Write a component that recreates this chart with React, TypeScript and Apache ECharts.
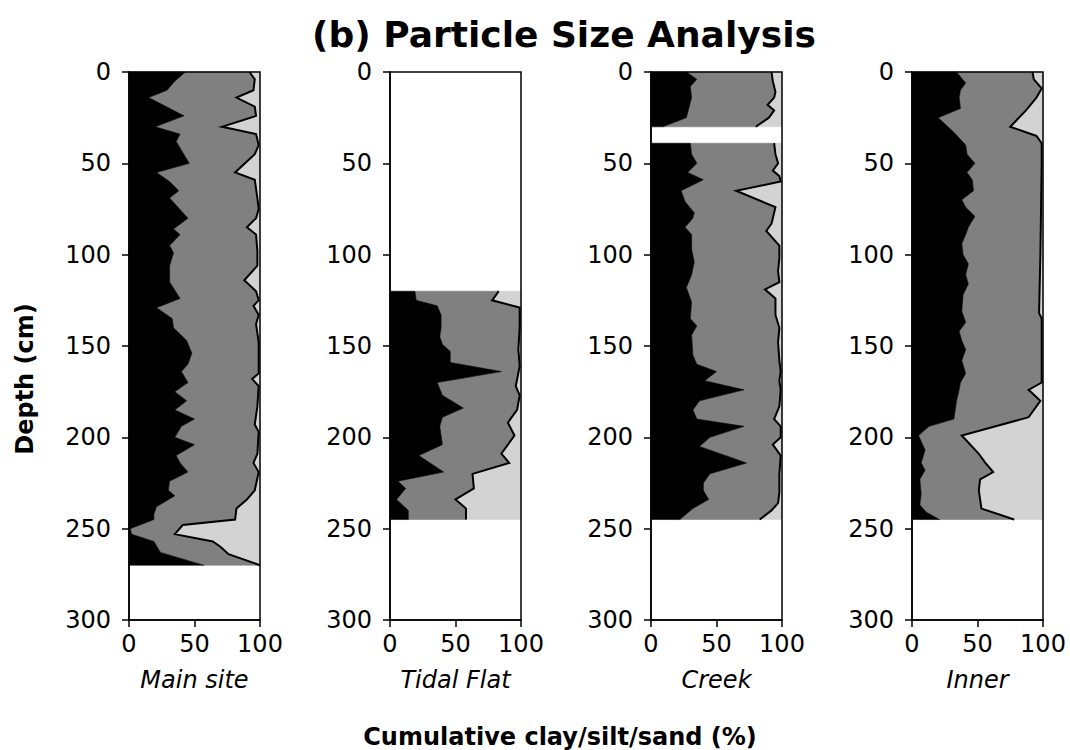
import React, { useEffect, useRef } from "react";
import * as echarts from "echarts";

// ---------- Data (depth in cm, cumulative percentage) ----------
const SITE_NAMES = ["Main site", "Tidal Flat", "Creek", "Inner"];
const X_TICKS = [0, 50, 100];
const DEPTH_TICKS = [0, 50, 100, 150, 200, 250, 300];

// Main site
const mainClayDepth = [0, 5, 10, 14, 24, 30, 34, 38, 50, 55, 60, 65, 69, 80, 86, 89, 95, 99, 106, 115, 124, 129, 135, 140, 147, 154, 160, 164, 170, 175, 180, 185, 190, 194, 200, 204, 210, 214, 219, 224, 229, 232, 238, 242, 245, 250, 253, 257, 263, 270];
const mainClay = [43, 35, 29, 15, 42, 20, 39, 36, 46, 21, 31, 38, 31, 45, 34, 39, 31, 34, 31, 31, 39, 21, 33, 34, 44, 48, 45, 40, 45, 35, 44, 35, 50, 40, 35, 50, 36, 39, 45, 31, 30, 35, 21, 19, 19, 1, 2, 19, 24, 57];
const mainCumDepth = [0, 4, 10, 14, 19, 24, 30, 34, 40, 45, 55, 59, 69, 75, 80, 85, 89, 98, 106, 114, 120, 125, 128, 133, 138, 148, 154, 165, 168, 172, 183, 193, 197, 209, 214, 219, 229, 234, 239, 245, 248, 253, 257, 260, 264, 270];
const mainCum = [92, 96, 95, 82, 96, 97, 71, 97, 99, 96, 81, 96, 98, 99, 97, 90, 97, 98, 98, 88, 97, 99, 95, 99, 97, 99, 99, 99, 94, 99, 98, 96, 99, 98, 95, 99, 96, 90, 82, 81, 41, 35, 64, 70, 76, 100];

// Tidal Flat
const tidalClayDepth = [120, 125, 128, 133, 140, 145, 149, 153, 159, 164, 170, 177, 184, 189, 194, 204, 210, 219, 224, 228, 234, 240, 245];
const tidalClay = [19, 20, 36, 39, 39, 38, 40, 46, 46, 85, 36, 40, 56, 40, 38, 40, 22, 41, 6, 12, 5, 14, 14];
const tidalCumDepth = [120, 125, 129, 139, 152, 161, 172, 177, 185, 192, 199, 209, 214, 220, 228, 234, 239, 245];
const tidalCum = [83, 78, 99, 99, 98, 99, 96, 99, 97, 90, 95, 85, 91, 63, 64, 50, 58, 58];

// Creek (two sampled intervals, gap between ~30 and ~39 cm)
const creekAClayDepth = [0, 4, 8, 14, 25, 30];
const creekAClay = [27, 35, 30, 31, 27, 9];
const creekACumDepth = [0, 5, 11, 14, 18, 21, 25, 30];
const creekACum = [92, 93, 95, 94, 89, 94, 90, 80];
const creekBClayDepth = [39, 45, 50, 55, 59, 65, 71, 77, 80, 85, 89, 97, 104, 111, 118, 126, 135, 139, 144, 155, 160, 164, 169, 174, 180, 185, 190, 194, 200, 205, 214, 220, 225, 229, 234, 239, 245];
const creekBClay = [30, 31, 35, 28, 40, 23, 26, 33, 32, 26, 31, 31, 33, 31, 27, 31, 30, 35, 31, 32, 35, 50, 41, 71, 37, 32, 35, 71, 45, 37, 73, 45, 40, 40, 44, 32, 22];
const creekBCumDepth = [39, 45, 50, 54, 57, 60, 65, 74, 83, 87, 95, 102, 109, 115, 119, 124, 133, 140, 148, 158, 164, 169, 174, 183, 190, 194, 200, 204, 210, 220, 230, 236, 240, 245];
const creekBCum = [94, 95, 97, 93, 98, 99, 65, 95, 92, 88, 98, 98, 97, 98, 87, 95, 95, 98, 97, 98, 99, 98, 99, 98, 94, 99, 99, 93, 99, 98, 98, 97, 92, 83];

// Inner
const innerClayDepth = [0, 6, 10, 14, 20, 25, 33, 40, 45, 50, 55, 59, 65, 70, 74, 79, 85, 89, 94, 100, 105, 111, 116, 122, 131, 137, 142, 147, 152, 158, 165, 170, 174, 180, 190, 194, 199, 207, 214, 218, 223, 231, 237, 241, 245];
const innerClay = [34, 41, 37, 36, 37, 20, 32, 41, 42, 48, 42, 46, 47, 38, 41, 48, 43, 41, 38, 39, 43, 41, 43, 39, 38, 41, 36, 38, 41, 38, 41, 37, 36, 34, 32, 13, 5, 10, 7, 10, 6, 7, 6, 11, 21];
const innerCumDepth = [0, 4, 9, 14, 21, 30, 35, 39, 51, 100, 132, 135, 161, 170, 174, 180, 189, 199, 209, 214, 219, 223, 229, 239, 245];
const innerCum = [92, 93, 99, 95, 87, 75, 95, 99, 99, 98, 97, 99, 99, 99, 89, 98, 89, 38, 51, 56, 62, 52, 51, 53, 78];

type Seg = { clayD: number[]; clay: number[]; cumD: number[]; cum: number[] };

const PANELS: Seg[][] = [
  [{ clayD: mainClayDepth, clay: mainClay, cumD: mainCumDepth, cum: mainCum }],
  [{ clayD: tidalClayDepth, clay: tidalClay, cumD: tidalCumDepth, cum: tidalCum }],
  [
    { clayD: creekAClayDepth, clay: creekAClay, cumD: creekACumDepth, cum: creekACum },
    { clayD: creekBClayDepth, clay: creekBClay, cumD: creekBCumDepth, cum: creekBCum },
  ],
  [{ clayD: innerClayDepth, clay: innerClay, cumD: innerCumDepth, cum: innerCum }],
];

const FONT = "DejaVu Sans";
const CLAY_COLOR = "#000000";
const SILT_COLOR = "#808080";
const SAND_COLOR = "#d3d3d3";

function polySeries(gi: number, pts: number[][], fill: string, z: number): any {
  return {
    type: "custom",
    xAxisIndex: gi,
    yAxisIndex: gi,
    silent: true,
    z,
    data: pts,
    encode: { x: 0, y: 1 },
    renderItem: (params: any, api: any) => {
      if (params.dataIndex !== 0) return null;
      return {
        type: "polygon",
        shape: { points: pts.map((p) => api.coord(p)) },
        style: { fill, stroke: fill, lineWidth: 0.6 },
      };
    },
  };
}

function lineSeries(gi: number, pts: number[][]): any {
  return {
    type: "custom",
    xAxisIndex: gi,
    yAxisIndex: gi,
    silent: true,
    z: 4,
    data: pts,
    encode: { x: 0, y: 1 },
    renderItem: (params: any, api: any) => {
      if (params.dataIndex !== 0) return null;
      return {
        type: "polyline",
        shape: { points: pts.map((p) => api.coord(p)) },
        style: { fill: "none", stroke: "#000", lineWidth: 2, lineJoin: "miter" },
      };
    },
  };
}

function segmentSeries(gi: number, seg: Seg): any[] {
  const top = seg.clayD[0];
  const bottom = seg.clayD[seg.clayD.length - 1];
  const clayPts = seg.clay.map((v, i) => [v, seg.clayD[i]]);
  const cumPts = seg.cum.map((v, i) => [v, seg.cumD[i]]);
  const clayPoly = [[0, top], ...clayPts, [0, bottom]];
  const siltPoly = [...clayPts, ...cumPts.slice().reverse()];
  const sandPoly = [...cumPts, [100, bottom], [100, top]];
  return [
    polySeries(gi, sandPoly, SAND_COLOR, 1),
    polySeries(gi, siltPoly, SILT_COLOR, 2),
    polySeries(gi, clayPoly, CLAY_COLOR, 3),
    lineSeries(gi, cumPts),
  ];
}

const GRID_LEFTS = [129, 390, 651, 912];

export default function App() {
  const ref = useRef<HTMLDivElement>(null);
  useEffect(() => {
    if (!ref.current) return;
    const chart = echarts.init(ref.current, undefined, { renderer: "svg" });
    const grids = GRID_LEFTS.map((left) => ({
      left,
      top: 72,
      width: 131,
      height: 548,
      show: true,
      borderColor: "#000",
      borderWidth: 1.5,
      backgroundColor: "rgba(0,0,0,0)",
      z: 10,
    }));
    const xAxes = SITE_NAMES.map((name, i) => ({
      gridIndex: i,
      type: "value",
      min: X_TICKS[0],
      max: X_TICKS[X_TICKS.length - 1],
      interval: 50,
      position: "bottom",
      name,
      nameLocation: "middle",
      nameGap: 48,
      nameTextStyle: { fontStyle: "italic", fontSize: 24, fontFamily: FONT, color: "#000" },
      axisLine: { show: true, onZero: false, lineStyle: { color: "#000", width: 1.5 } },
      axisTick: { show: true, length: 7, lineStyle: { color: "#000", width: 1.5 } },
      axisLabel: { fontSize: 24, fontFamily: FONT, color: "#000", margin: 12 },
      splitLine: { show: false },
      z: 10,
    }));
    const yAxes = SITE_NAMES.map((_, i) => ({
      gridIndex: i,
      type: "value",
      inverse: true,
      min: DEPTH_TICKS[0],
      max: DEPTH_TICKS[DEPTH_TICKS.length - 1],
      interval: 50,
      axisLine: { show: true, onZero: false, lineStyle: { color: "#000", width: 1.5 } },
      axisTick: { show: true, length: 7, lineStyle: { color: "#000", width: 1.5 } },
      axisLabel: { fontSize: 24, fontFamily: FONT, color: "#000", margin: 18 },
      splitLine: { show: false },
      z: 10,
    }));
    const series: any[] = [];
    PANELS.forEach((segs, gi) => segs.forEach((s) => series.push(...segmentSeries(gi, s))));
    chart.setOption({
      animation: false,
      backgroundColor: "#ffffff",
      grid: grids,
      xAxis: xAxes,
      yAxis: yAxes,
      series,
      graphic: [
        {
          type: "text",
          x: 564,
          y: 34,
          style: {
            text: "(b) Particle Size Analysis",
            fontFamily: FONT,
            fontWeight: "bold",
            fontSize: 36,
            fill: "#000",
            textAlign: "center",
            textVerticalAlign: "middle",
          },
        },
        {
          type: "text",
          x: 560,
          y: 737,
          style: {
            text: "Cumulative clay/silt/sand (%)",
            fontFamily: FONT,
            fontWeight: "bold",
            fontSize: 24,
            fill: "#000",
            textAlign: "center",
            textVerticalAlign: "middle",
          },
        },
        {
          type: "text",
          x: 25,
          y: 379,
          rotation: Math.PI / 2,
          style: {
            text: "Depth (cm)",
            fontFamily: FONT,
            fontWeight: "bold",
            fontSize: 24,
            fill: "#000",
            textAlign: "center",
            textVerticalAlign: "middle",
          },
        },
      ],
    });
    return () => chart.dispose();
  }, []);
  return (
    <div
      ref={ref}
      style={{ position: "absolute", left: 0, top: 0, width: 1070, height: 750 }}
    />
  );
}
